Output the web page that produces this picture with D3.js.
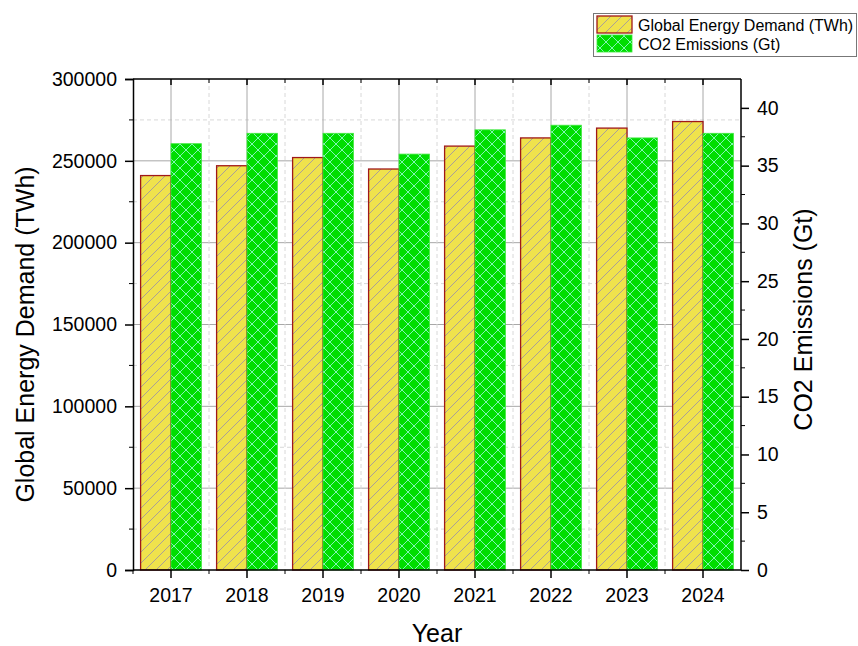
<!DOCTYPE html>
<html>
<head>
<meta charset="utf-8">
<script src="https://cdn.jsdelivr.net/npm/d3@7"></script>
<style>
  html, body { margin: 0; padding: 0; background: #fff; }
  svg { display: block; font-family: "Liberation Sans", Arial, sans-serif; }
</style>
</head>
<body>
<svg id="chart" width="858" height="646"></svg>
<script>
// Yearly figures
const years = ["2017", "2018", "2019", "2020", "2021", "2022", "2023", "2024"];
const energyDemand = [241000, 247000, 252000, 245000, 259000, 264000, 270000, 274000]; // TWh
const co2Emissions = [36.9, 37.8, 37.8, 36.0, 38.1, 38.5, 37.4, 37.8];                // Gt
const leftTicks = [0, 50000, 100000, 150000, 200000, 250000, 300000];
const rightTicks = [0, 5, 10, 15, 20, 25, 30, 35, 40];
const seriesNames = ["Global Energy Demand (TWh)", "CO2 Emissions (Gt)"];

const svg = d3.select("#chart");
const m = { left: 133, right: 741, top: 79, bottom: 570 };

const x = d3.scaleBand().domain(years).range([m.left, m.right]).paddingInner(0).paddingOuter(0);
const yL = d3.scaleLinear().domain([0, 300000]).range([m.bottom, m.top]);
const yR = d3.scaleLinear().domain([0, 42.5]).range([m.bottom, m.top]);

// Fill patterns
const defs = svg.append("defs");
const hatch = defs.append("pattern")
  .attr("id", "hatchYellow").attr("patternUnits", "userSpaceOnUse")
  .attr("width", 11).attr("height", 11);
hatch.append("rect").attr("width", 11).attr("height", 11).attr("fill", "#efe24c");
hatch.append("path").attr("d", "M-1,12 L12,-1 M-6.5,6.5 L6.5,-6.5 M4.5,17.5 L17.5,4.5")
  .attr("stroke", "#7a74c8").attr("stroke-width", 0.6);

const cross = defs.append("pattern")
  .attr("id", "crossGreen").attr("patternUnits", "userSpaceOnUse")
  .attr("width", 12).attr("height", 12);
cross.append("rect").attr("width", 12).attr("height", 12).attr("fill", "#00dd00");
cross.append("path").attr("d", "M0,0 L12,12 M12,0 L0,12")
  .attr("stroke", "#8cf7c8").attr("stroke-width", 0.9);

// Grid
const grid = svg.append("g");
const minorL = d3.range(25000, 300000, 50000);
grid.selectAll(".hmin").data(minorL).join("line")
  .attr("x1", m.left).attr("x2", m.right)
  .attr("y1", d => yL(d)).attr("y2", d => yL(d))
  .attr("stroke", "#d8d8d8").attr("stroke-dasharray", "4,3").attr("stroke-width", 1);
grid.selectAll(".hmaj").data(leftTicks.slice(1, -1)).join("line")
  .attr("x1", m.left).attr("x2", m.right)
  .attr("y1", d => yL(d)).attr("y2", d => yL(d))
  .attr("stroke", "#a8a8a8").attr("stroke-width", 1);
grid.selectAll(".vmin").data(years.slice(1)).join("line")
  .attr("x1", d => x(d)).attr("x2", d => x(d))
  .attr("y1", m.top).attr("y2", m.bottom)
  .attr("stroke", "#d8d8d8").attr("stroke-dasharray", "4,3").attr("stroke-width", 1);
grid.selectAll(".vmaj").data(years).join("line")
  .attr("x1", d => x(d) + x.bandwidth() / 2).attr("x2", d => x(d) + x.bandwidth() / 2)
  .attr("y1", m.top).attr("y2", m.bottom)
  .attr("stroke", "#a8a8a8").attr("stroke-width", 1);

// Bars
const barW = x.bandwidth() * 0.4;
const bars = svg.append("g");
bars.selectAll(".energy").data(years).join("rect")
  .attr("x", d => x(d) + x.bandwidth() / 2 - barW)
  .attr("y", (d, i) => yL(energyDemand[i]))
  .attr("width", barW)
  .attr("height", (d, i) => m.bottom - yL(energyDemand[i]))
  .attr("fill", "url(#hatchYellow)")
  .attr("stroke", "#a01818").attr("stroke-width", 1.3);
bars.selectAll(".co2").data(years).join("rect")
  .attr("x", d => x(d) + x.bandwidth() / 2)
  .attr("y", (d, i) => yR(co2Emissions[i]))
  .attr("width", barW)
  .attr("height", (d, i) => m.bottom - yR(co2Emissions[i]))
  .attr("fill", "url(#crossGreen)")
  .attr("stroke", "#3ee83e").attr("stroke-width", 0.8);

// Axes
const axisG = svg.append("g");

// left
const leftAxis = axisG.append("g").attr("transform", `translate(${m.left},0)`)
  .call(d3.axisLeft(yL).tickValues(leftTicks).tickFormat(d3.format("d")).tickSize(8).tickPadding(8));
leftAxis.append("g").selectAll("line").data(minorL).join("line")
  .attr("x1", -4).attr("x2", 0).attr("y1", d => yL(d)).attr("y2", d => yL(d)).attr("stroke", "#000");

// right
const minorR = d3.range(2.5, 42.5, 5);
const rightAxis = axisG.append("g").attr("transform", `translate(${m.right},0)`)
  .call(d3.axisRight(yR).tickValues(rightTicks).tickSize(8).tickPadding(8));
rightAxis.append("g").selectAll("line").data(minorR).join("line")
  .attr("x1", 0).attr("x2", 4).attr("y1", d => yR(d)).attr("y2", d => yR(d)).attr("stroke", "#000");
rightAxis.select(".domain").attr("d", `M0,${m.top}V${m.bottom}`);

// bottom
const bottomAxis = axisG.append("g").attr("transform", `translate(0,${m.bottom})`)
  .call(d3.axisBottom(x).tickSize(8).tickPadding(10));
bottomAxis.append("g").selectAll("line").data(years.slice(1)).join("line")
  .attr("x1", d => x(d)).attr("x2", d => x(d)).attr("y1", 0).attr("y2", 4).attr("stroke", "#000");
bottomAxis.append("line").attr("x1", m.left).attr("x2", m.left).attr("y1", 0).attr("y2", 4).attr("stroke", "#000");
bottomAxis.select(".domain").attr("d", `M${m.left},0H${m.right}`);

// top frame (ticks point inward)
const topAxis = axisG.append("g").attr("transform", `translate(0,${m.top})`)
  .call(d3.axisTop(x).tickSize(-6).tickFormat(""));
topAxis.append("g").selectAll("line").data(years.slice(1)).join("line")
  .attr("x1", d => x(d)).attr("x2", d => x(d)).attr("y1", 0).attr("y2", 4).attr("stroke", "#000");
topAxis.select(".domain").attr("d", `M${m.left},0H${m.right}`);

axisG.selectAll(".domain").attr("stroke", "#000").attr("stroke-width", 1.5);
axisG.selectAll(".tick line").attr("stroke", "#000").attr("stroke-width", 1.5);
axisG.selectAll("g").attr("font-size", null).attr("font-family", null);
axisG.selectAll("text").attr("fill", "#000").attr("font-size", 19.5)
  .attr("font-family", "Liberation Sans, Arial, sans-serif");

// Axis titles
svg.append("text").attr("x", (m.left + m.right) / 2).attr("y", 642)
  .attr("text-anchor", "middle").attr("font-size", 25).text("Year");
svg.append("text").attr("transform", `translate(34,${(m.top + m.bottom) / 2 + 10}) rotate(-90)`)
  .attr("text-anchor", "middle").attr("font-size", 25).text("Global Energy Demand (TWh)");
svg.append("text").attr("transform", `translate(812,${(m.top + m.bottom) / 2 - 5}) rotate(-90)`)
  .attr("text-anchor", "middle").attr("font-size", 25).text("CO2 Emissions (Gt)");

// Legend
const lg = svg.append("g");
lg.append("rect").attr("x", 593.5).attr("y", 13.5).attr("width", 263).attr("height", 43)
  .attr("fill", "#fff").attr("stroke", "#777").attr("stroke-width", 1);
const fills = ["url(#hatchYellow)", "url(#crossGreen)"];
const strokes = ["#a01818", "#3ee83e"];
seriesNames.forEach((name, i) => {
  lg.append("rect").attr("x", 597).attr("y", 16 + i * 19).attr("width", 35).attr("height", 17)
    .attr("fill", fills[i]).attr("stroke", strokes[i]).attr("stroke-width", i === 0 ? 1.3 : 0.8);
  lg.append("text").attr("x", 638).attr("y", 25 + i * 19).attr("dy", "0.35em")
    .attr("font-size", 16).text(name);
});
</script>
</body>
</html>
